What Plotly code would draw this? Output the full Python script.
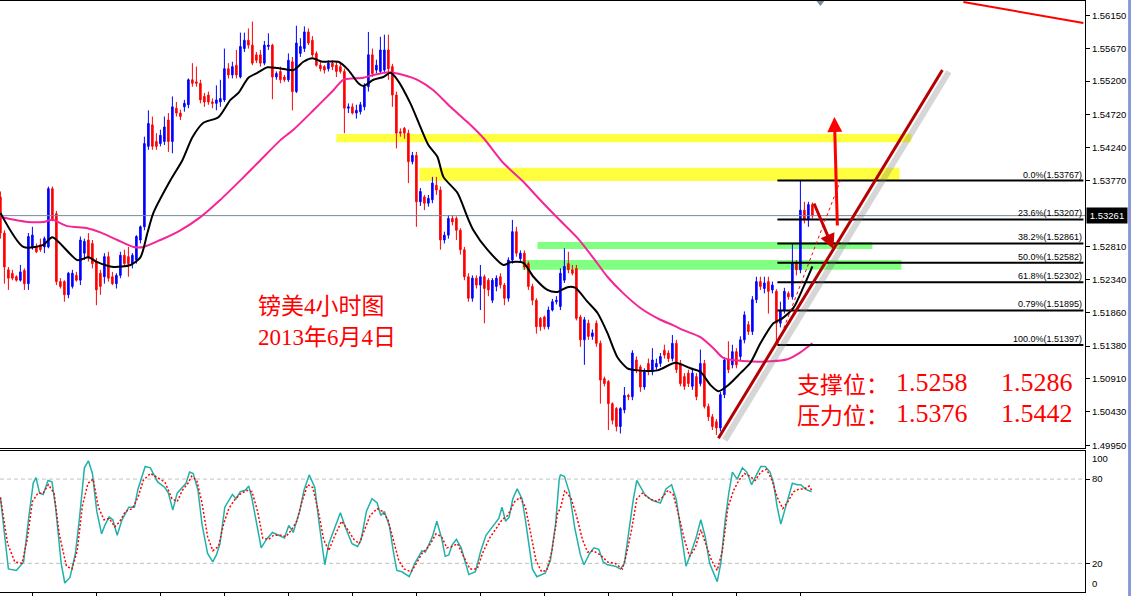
import plotly.graph_objects as go

# ---------------- price data (pips: 5326 -> 1.5326) ----------------
bar_open = [5353,5301,5248,5243,5238,5233,5247,5228,5281,5281,
5284,5281,5281,5365,5329,5231,5231,5212,5224,5240,
5233,5272,5291,5286,5260,5243,5238,5267,5238,5228,
5240,5269,5267,5257,5262,5291,5310,5426,5457,5433,
5430,5433,5464,5433,5481,5474,5483,5486,5522,5519,
5517,5498,5500,5490,5488,5490,5493,5538,5529,5543,
5526,5567,5579,5572,5558,5558,5546,5570,5572,5526,
5534,5526,5522,5548,5505,5560,5567,5591,5579,5560,
5543,5541,5538,5546,5543,5541,5534,5481,5483,5474,
5476,5483,5512,5558,5536,5534,5536,5565,5541,5500,
5447,5452,5445,5404,5413,5346,5353,5344,5349,5370,
5363,5291,5298,5322,5322,5305,5277,5238,5207,5236,
5226,5238,5233,5204,5224,5238,5226,5207,5262,5303,
5264,5272,5257,5224,5204,5178,5180,5166,5190,5202,
5195,5233,5257,5248,5250,5180,5147,5171,5152,5171,
5142,5091,5087,5055,5048,5022,5046,5067,5065,5118,
5108,5079,5113,5101,5108,5113,5132,5128,5120,5142,
5113,5094,5099,5080,5094,5084,5113,5051,5036,5029,
5020,5068,5118,5111,5130,5123,5147,5169,5159,5205,
5231,5221,5231,5219,5217,5171,5190,5214,5209,5258,
5248,5334,5320,5342]
bar_high = [5361,5305,5252,5248,5240,5255,5250,5301,5310,5286,
5293,5296,5368,5368,5333,5236,5233,5245,5248,5245,
5296,5293,5301,5291,5265,5248,5272,5274,5245,5243,
5274,5277,5281,5272,5298,5312,5440,5478,5469,5445,
5450,5469,5474,5498,5490,5479,5493,5524,5546,5541,
5522,5503,5505,5495,5514,5522,5567,5546,5548,5565,
5590,5590,5596,5606,5562,5565,5578,5589,5574,5534,
5541,5529,5560,5555,5600,5582,5599,5596,5585,5563,
5548,5543,5550,5550,5548,5546,5538,5488,5488,5486,
5490,5517,5591,5567,5551,5584,5587,5587,5545,5505,
5452,5454,5450,5418,5418,5366,5356,5356,5382,5382,
5368,5303,5327,5327,5325,5308,5281,5243,5240,5240,
5255,5241,5236,5236,5240,5243,5229,5266,5320,5310,
5276,5276,5260,5228,5207,5180,5182,5195,5206,5210,
5250,5279,5274,5255,5255,5183,5180,5176,5162,5175,
5146,5094,5089,5057,5050,5050,5079,5069,5132,5123,
5111,5106,5120,5135,5120,5128,5140,5132,5154,5147,
5118,5099,5104,5104,5099,5133,5118,5055,5040,5033,
5072,5122,5145,5140,5135,5152,5188,5174,5210,5238,
5238,5238,5238,5231,5220,5202,5222,5217,5286,5262,
5377,5346,5346,5345]
bar_low = [5293,5228,5219,5233,5231,5231,5219,5219,5277,5272,
5274,5272,5279,5318,5226,5221,5202,5207,5221,5231,
5226,5262,5260,5250,5197,5212,5228,5231,5226,5221,
5236,5255,5238,5250,5257,5286,5305,5421,5421,5421,
5426,5428,5418,5416,5469,5464,5476,5481,5512,5512,
5488,5483,5486,5481,5478,5483,5490,5524,5524,5524,
5524,5562,5567,5543,5546,5541,5543,5565,5494,5522,
5517,5519,5519,5478,5503,5555,5562,5572,5555,5541,
5534,5531,5534,5536,5526,5531,5445,5474,5472,5466,
5472,5478,5505,5526,5531,5531,5531,5522,5483,5423,
5440,5437,5373,5400,5310,5340,5334,5339,5344,5356,
5277,5286,5293,5312,5291,5270,5233,5202,5202,5221,
5190,5171,5210,5200,5217,5221,5197,5202,5257,5267,
5260,5248,5219,5197,5156,5160,5162,5162,5188,5198,
5190,5229,5243,5240,5175,5137,5111,5147,5147,5137,
5055,5080,5017,5025,5015,5012,5041,5060,5060,5099,
5072,5075,5096,5096,5104,5108,5120,5115,5116,5099,
5080,5075,5079,5075,5060,5080,5048,5030,5017,5010,
5015,5063,5099,5106,5106,5118,5142,5154,5154,5200,
5219,5214,5185,5214,5142,5165,5185,5205,5205,5240,
5243,5315,5310,5322]
bar_close = [5301,5252,5236,5236,5233,5245,5228,5296,5298,5274,
5277,5293,5365,5320,5231,5224,5212,5243,5243,5233,
5291,5289,5267,5257,5219,5224,5267,5236,5228,5240,
5269,5257,5257,5269,5296,5310,5430,5459,5426,5426,
5442,5454,5433,5483,5474,5469,5488,5522,5517,5517,
5493,5490,5490,5488,5493,5495,5538,5529,5541,5529,
5570,5579,5572,5546,5550,5546,5572,5572,5526,5531,
5522,5522,5550,5505,5575,5570,5591,5575,5558,5543,
5538,5536,5546,5541,5534,5534,5481,5483,5474,5478,
5486,5512,5558,5531,5543,5565,5565,5538,5500,5445,
5445,5445,5404,5413,5346,5361,5344,5351,5373,5363,
5291,5298,5322,5317,5305,5277,5238,5207,5236,5226,
5238,5221,5219,5233,5236,5226,5207,5262,5303,5272,
5272,5252,5224,5204,5166,5166,5166,5190,5202,5204,
5243,5253,5248,5243,5178,5147,5176,5152,5157,5142,
5089,5084,5055,5031,5022,5048,5067,5065,5128,5104,
5079,5101,5101,5118,5113,5123,5125,5120,5142,5104,
5084,5080,5084,5099,5065,5113,5051,5036,5022,5020,
5068,5118,5104,5130,5111,5147,5183,5159,5205,5231,
5224,5229,5217,5226,5171,5190,5217,5209,5258,5248,
5334,5320,5342,5326]

# moving averages (bar index, pips)
ma_fast_x = [0,5.75,10.75,13,19.25,22,24.25,28.25,32.5,35,36.75,38.25,42.5,45.5,48,
50.75,54.5,57.5,59.5,62,64.25,66.75,69.25,73.25,75.75,78,80.5,84.5,87,89.5,
90.75,93.25,95.75,97.5,99.25,102.5,105,107,109.25,110.75,114.25,116.75,118.25,
121.75,125.75,127.5,130.75,133.25,136.75,139.25,141.75,143.75,146.75,149.25,
151.75,154.25,156.75,159.25,164.25,168.75,172.5,175,177.5,179.5,182,185,187.5,
190,193.25,195.5,198.25,200.75,203]
ma_fast = [5330,5281,5284,5295,5262,5266,5259,5252,5255,5266,5301,5330,5377,5406,5439,
5460,5468,5493,5503,5525,5532,5540,5539,5536,5548,5553,5548,5548,5536,5517,
5513,5522,5526,5532,5522,5488,5454,5428,5411,5382,5359,5324,5305,5277,5255,
5259,5258,5238,5219,5216,5223,5222,5202,5186,5157,5122,5106,5103,5103,5114,
5106,5101,5082,5073,5082,5099,5114,5142,5171,5178,5193,5223,5253]
ma_slow_x = [0,6.75,10.75,13,16.75,21.75,25,29.25,33.25,35.75,40,45,50,55,60,65,70,
73.25,78.25,83.25,85.75,90.75,93.25,97,100.75,104.25,108.25,112.5,116.75,120.75,
125.75,130.75,134.25,139.25,144.25,148.25,151.75,155.75,160,165,168.25,170.75,
175,178.25,180.75,186.75,192.5,196.75,200,203]
ma_slow = [5324,5317,5317,5320,5311,5308,5302,5291,5281,5281,5291,5305,5324,5349,5377,
5406,5435,5450,5478,5507,5522,5525,5529,5533,5529,5522,5507,5483,5461,5438,
5402,5375,5353,5323,5294,5265,5238,5214,5193,5176,5168,5161,5151,5135,5121,
5116,5116,5119,5129,5142]

# stochastic oscillator
stoch_k_x = [0,1.1,2,4,5.8,7.1,8.2,8.9,9.8,10.7,11.9,12.9,13.8,15.2,16.1,17.4,18.75,19.8,
21,22,23,24.1,25.3,26.1,27.2,28.1,29.2,30.4,32.1,33.5,34.4,36.2,37.5,39.3,41.1,42,
43.1,44.2,45.5,46.4,47.3,48.2,49.4,50.4,51.8,53.1,54,54.9,56.1,57.1,58,58.9,60,
61.2,62.1,62.9,64.1,65.2,66.5,68,69.6,71,72.1,73.2,74.8,75.9,77.2,78.6,79.7,81.1,
82.1,83.5,85,86.2,87.9,89.3,90.2,91.5,92.9,94.2,95.1,96,97.3,98.2,99.1,100.4,
102.2,103.6,105.4,106.25,108,109.1,110.3,111.2,112.1,112.9,114,115.2,116.1,117.1,
118.75,120.1,121.4,123.2,124.6,125.4,126.3,127.2,128.1,129.2,130.4,131.25,132.1,
133,134.1,136.2,137.5,138.8,139.7,
140,141,142.3,143.6,145,145.9,147.3,148.4,149.6,150.7,151.8,153.7,155,156,157.3,
158.2,159.1,160.2,161.1,162.8,163.9,165,166.4,167.8,169,170,171.4,172.6,173.9,
175.1,176.2,177.3,178.3,179.2,180.1,181.2,182.1,183,184.2,185.5,186.6,187.8,
189.2,190.1,191.2,192.4,193.3,194.2,195.1,196,196.9,198,199.2,200.1,201.2,201.9,202.8]
stoch_k = [67,39,16,15,21,53,77,81,70,69,79,78,60,20,6,10,27,53,88,93,84,57,41,47,53,
51,40,51,60,60,73,89,88,78,74,70,58,70,74,77,85,84,72,48,27,21,26,34,60,65,
69,66,71,72,75,66,48,31,37,42,40,38,47,42,57,72,83,74,48,19,34,44,56,46,34,
32,37,57,66,63,54,57,46,29,15,14,10.5,20,29,28,39,50,38,25,26,33,37,31,21,12,
14,29,40,47,52,60,50,53,66,73,66,51,32,16,10.5,13,22,48,80,
83,82,70,45,26,19,27,31,30,21,19,18,16,20,46,65,79,73,69,65,64,63,73,76,65,
44,18,27,38,51,39,20,13,7,20,51,70,85,80,88,85,76,84,89,89,85,77,60,48,58,
66,77,76,76,73,72,71]
stoch_d_x = [0,1.8,3.6,5.4,6.7,8,9.4,10.7,12,13.4,14.7,16.5,17.9,19.2,20.5,21.9,23.2,
24.5,25.9,27.2,28.6,29.9,31.25,33,34.4,35.7,37.5,39.7,41.1,42.9,44.2,45.5,46.9,
47.8,49.1,50.4,51.8,53.1,54.5,55.8,57.1,58.5,59.8,61.6,62.9,64.3,65.6,67,68.3,
70,71.4,72.8,74.1,75.4,76.8,78.1,79.5,80.8,82.1,83.5,85.3,86.6,88.4,89.7,91.1,
92.4,94.2,95.5,96.9,98.2,99.6,100.9,102.7,104,105.4,107.1,108.9,110.3,111.6,
112.9,114.3,115.6,117.4,119.2,120.5,122.3,124.1,125.4,126.8,128.6,129.9,131.25,
132.6,133.9,135.3,136.6,137.9,139.3,
140,141.1,142.7,144.1,145.5,146.8,148.2,150,151.8,153.7,155.5,156.4,157.8,159.1,
160.5,162.3,164.1,165.5,166.9,168.2,169.6,171,172.3,173.7,175.1,176.4,177.8,
179.2,180.5,181.9,183.3,184.6,186,187.4,188.7,190.1,191.5,192.8,194.2,195.6,
196.9,198.3,199.7,201,202.2,202.8]
stoch_d = [67,34,21,20,37,64,70,70,76,70,41,18,16,29,61,77,80,60,51,52,46,50,57,59,67,
79,84,80,78,66,64,72,77,82,79,63,39,29,32,48,59,65,69,72,71,57,38,37,40,40,
39,44,50,64,76,74,57,37,29,39,50,45,37,34,44,54,59,57,51,37,22,16,14,20,27,
32,41,39,31,32,34,26,16,16,27,38,46,51,54,64,67,60,41,22,14,15,29,56,
59,72,66,53,37,28,29,26,21,20,16,25,44,66,70,66,64,67,72,69,54,37,25,31,44,
34,22,15,29,60,72,79,84,82,79,85,87,80,67,59,64,71,73,73,75,72]

# axis ticks
price_ticks = [1.5615,1.5567,1.5520,1.5472,1.5424,1.5377,1.5281,1.5234,1.5186,
               1.5138,1.5091,1.5043,1.4995]
time_ticks = [8,24,40,56,72,88,104,120,136,152,168,184,200]
stoch_ticks = [80, 20]
current_price = 1.53261

# drawn objects
fib_prices = [1.53767,1.53207,1.52861,1.52582,1.52302,1.51895,1.51397]
fib_labels = ["0.0%(1.53767)","23.6%(1.53207)","38.2%(1.52861)","50.0%(1.52582)",
              "61.8%(1.52302)","0.79%(1.51895)","100.0%(1.51397)"]
fib_span = [194.25, 270.75]
fib_anchor_x = [194.25, 210.0]
fib_anchor_y = [1.51397, 1.53767]
yellow_bands = [[84.0, 227.75, 1.5432, 1.5444], [104.75, 224.75, 1.5376, 1.5395]]
green_bands = [[134.25, 218.0, 1.5278, 1.5288], [130.5, 225.25, 1.5248, 1.5262]]
trend_x = [179.5, 235.5]
trend_y = [1.5005, 1.5536]
top_line_x = [240.75, 270.75]
top_line_y = [1.56342, 1.56039]
arrow_up = dict(tail=(209.25, 1.53097), head=(208.5, 1.54684))
arrow_down = dict(tail=(203.25, 1.53458), head=(208.25, 1.52780))
shift_marker_x = 205

title_lines = [("镑美4小时图", 80.25, 1.51958), ("2013年6月4日", 81.75, 1.51511)]
level_rows = [("支撑位：", "1.5258", "1.5286", 1.50848),
              ("压力位：", "1.5376", "1.5442", 1.50401)]

# ---------------- figure ----------------
def px(v):
    return [1 + p / 10000 for p in v]

bars = list(range(len(bar_open)))
fig = go.Figure()

x_range = [-0.1, 271.15]
y_range = [1.49911, 1.56356]

for x0, x1, y0, y1 in yellow_bands:
    fig.add_shape(type="rect", x0=x0, x1=x1, y0=y0, y1=y1, xref="x", yref="y",
                  fillcolor="#FFFF40", line_width=0, layer="below")
for x0, x1, y0, y1 in green_bands:
    fig.add_shape(type="rect", x0=x0, x1=x1, y0=y0, y1=y1, xref="x", yref="y",
                  fillcolor="#80FF80", line_width=0, layer="below")

fig.add_trace(go.Scatter(x=x_range, y=[current_price, current_price], mode="lines",
                         line=dict(color="#778899", width=1), hoverinfo="skip"))

fig.add_trace(go.Candlestick(
    x=bars, open=px(bar_open), high=px(bar_high), low=px(bar_low), close=px(bar_close),
    increasing=dict(line=dict(color="#0000FF", width=1), fillcolor="#0000FF"),
    decreasing=dict(line=dict(color="#FF0000", width=1), fillcolor="#FF0000"),
    whiskerwidth=0, xaxis="x", yaxis="y"))

fig.add_trace(go.Scatter(x=ma_slow_x, y=px(ma_slow), mode="lines",
                         line=dict(color="#F52596", width=2, shape="spline", smoothing=0.7)))
fig.add_trace(go.Scatter(x=ma_fast_x, y=px(ma_fast), mode="lines",
                         line=dict(color="#000000", width=2, shape="spline", smoothing=0.7)))

# fibonacci levels
fx, fy = [], []
for p in fib_prices:
    fx += [fib_span[0], fib_span[1], None]
    fy += [p, p, None]
fig.add_trace(go.Scatter(x=fx, y=fy, mode="lines", line=dict(color="black", width=2)))
fig.add_trace(go.Scatter(x=fib_anchor_x, y=fib_anchor_y, mode="lines",
                         line=dict(color="#FF0000", width=1, dash="dot")))
for p, lab in zip(fib_prices, fib_labels):
    fig.add_annotation(x=fib_span[1] - 0.2, y=p, xref="x", yref="y", text=lab,
                       showarrow=False, xanchor="right", yanchor="bottom",
                       font=dict(family="Liberation Sans", size=9, color="black"),
                       borderpad=0)

# trend line with soft shadow
fig.add_trace(go.Scatter(x=[v + 1.6 for v in trend_x], y=[v - 0.00025 for v in trend_y],
                         mode="lines", line=dict(color="rgba(120,120,120,0.30)", width=6)))
fig.add_trace(go.Scatter(x=trend_x, y=trend_y, mode="lines",
                         line=dict(color="#B40000", width=3)))
fig.add_trace(go.Scatter(x=top_line_x, y=top_line_y, mode="lines",
                         line=dict(color="#FF0000", width=2)))
fig.add_trace(go.Scatter(x=[shift_marker_x], y=[y_range[1]], mode="markers",
                         marker=dict(symbol="triangle-down", size=10, color="#7A8797"),
                         cliponaxis=False))

for arr, col in [(arrow_up, "#FF0000"), (arrow_down, "#C80000")]:
    fig.add_annotation(x=arr["head"][0], y=arr["head"][1], ax=arr["tail"][0], ay=arr["tail"][1],
                       xref="x", yref="y", axref="x", ayref="y", text="", showarrow=True,
                       arrowhead=2, arrowsize=1, arrowwidth=3, arrowcolor=col)

# stochastic
fig.add_trace(go.Scatter(x=[x_range[0], x_range[1], None, x_range[0], x_range[1]],
                         y=[stoch_ticks[0], stoch_ticks[0], None, stoch_ticks[1], stoch_ticks[1]],
                         mode="lines", line=dict(color="#C0C0C0", width=1, dash="4px,3px"),
                         xaxis="x2", yaxis="y2"))
fig.add_trace(go.Scatter(x=stoch_k_x, y=stoch_k, mode="lines",
                         line=dict(color="#20B2AA", width=1.5), xaxis="x2", yaxis="y2"))
fig.add_trace(go.Scatter(x=stoch_d_x, y=stoch_d, mode="lines",
                         line=dict(color="#FF0000", width=1.5, dash="2px,2px"),
                         xaxis="x2", yaxis="y2"))

# texts
for txt, xx, yy in title_lines:
    fig.add_annotation(x=xx, y=yy, xref="x", yref="y", text=txt, showarrow=False,
                       font=dict(family="Liberation Serif, Noto Sans CJK SC", size=23,
                                 color="#FF0000"))
for lab, n1, n2, yy in level_rows:
    fig.add_annotation(x=198.75, y=yy, xref="x", yref="y", text=lab, showarrow=False,
                       xanchor="left", font=dict(family="Noto Sans CJK SC", size=23,
                                                 color="#FF0000"))
    for xx, n in [(223.75, n1), (250.0, n2)]:
        fig.add_annotation(x=xx, y=yy, xref="x", yref="y", text=n, showarrow=False,
                           xanchor="left", borderpad=0,
                           font=dict(family="Liberation Serif", size=26, color="#FF0000"))

axfont = dict(family="Liberation Sans", size=9.5, color="black")
fig.add_annotation(x=1, xref="paper", xanchor="left", xshift=1, y=current_price, yref="y",
                   text="1.53261", showarrow=False, bgcolor="black", borderpad=2, width=36,
                   font=dict(family="Liberation Sans", size=9.5, color="white"))
fig.add_annotation(x=1, xref="paper", xanchor="left", xshift=5, y=100, yref="y2",
                   yanchor="top", text="100", showarrow=False, font=axfont)
fig.add_annotation(x=1, xref="paper", xanchor="left", xshift=5, y=0, yref="y2",
                   yanchor="bottom", text="0", showarrow=False, font=axfont)

# window border
fig.add_shape(type="line", xref="paper", yref="paper", x0=1.0411, x1=1.0411, y0=-0.02, y1=1.02,
              line=dict(color="#8797D9", width=3))

fig.update_layout(
    width=1131, height=596, margin=dict(l=0, r=46, t=1, b=4),
    paper_bgcolor="white", plot_bgcolor="white", showlegend=False,
    xaxis=dict(domain=[0, 1], range=x_range, anchor="y", showticklabels=False, ticks="",
               showline=True, linecolor="black", linewidth=1, mirror=True,
               showgrid=False, zeroline=False, rangeslider=dict(visible=False)),
    yaxis=dict(domain=[0.2437, 1], range=y_range, side="right", anchor="x",
               tickvals=price_ticks, ticktext=["%.5f" % v for v in price_ticks],
               ticks="outside", ticklen=4, tickcolor="black", showline=True,
               linecolor="black", linewidth=1, showgrid=False, zeroline=False,
               tickfont=axfont),
    xaxis2=dict(domain=[0, 1], range=x_range, anchor="y2", showticklabels=False,
                tickvals=time_ticks, ticks="outside", ticklen=5, tickcolor="black",
                showline=True, linecolor="black", linewidth=1, mirror=True,
                showgrid=False, zeroline=False),
    yaxis2=dict(domain=[0, 0.2386], range=[-0.4, 100.0], side="right", anchor="x2",
                tickvals=stoch_ticks, ticks="outside", ticklen=4, tickcolor="black",
                showline=True, linecolor="black", linewidth=1, showgrid=False,
                zeroline=False, tickfont=axfont),
    boxgap=0.45,
)

fig.write_html("out.html", config={"displayModeBar": False},
               post_script="document.body.style.margin='0';document.body.style.padding='0';"
                           "document.documentElement.style.overflow='hidden';")
